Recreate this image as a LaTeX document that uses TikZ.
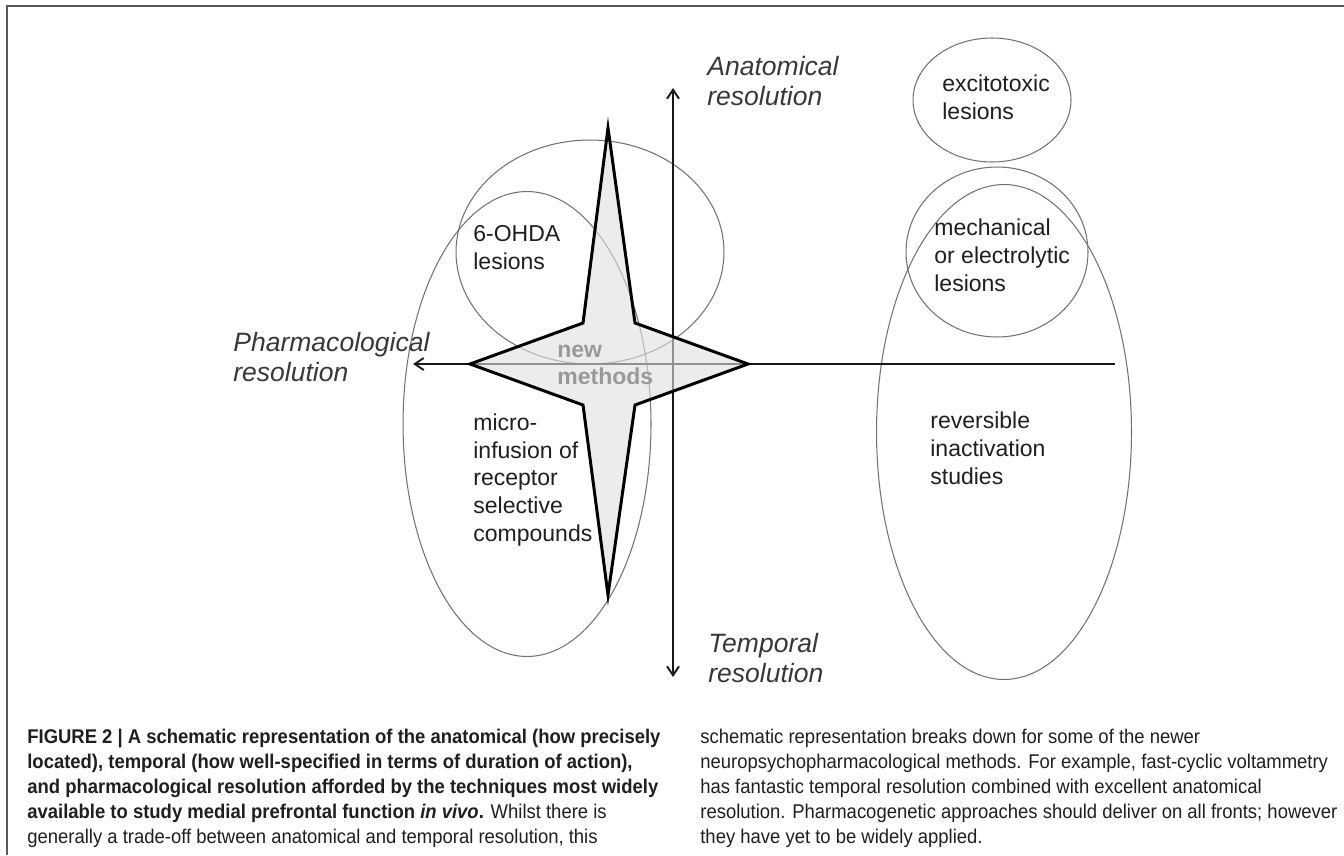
\documentclass[tikz,border=0pt]{standalone}
\usepackage{fontspec}
\setmainfont{Liberation Sans}
\newfontfamily\capfont[FakeStretch=0.93]{Liberation Sans}
\usetikzlibrary{shapes.geometric,arrows.meta}

\begin{document}
\begin{tikzpicture}[
    x=0.02cm, y=-0.02cm,
    >={Straight Barb[length=1.8mm,width=2.4mm]},
    zone/.style={ellipse, draw=black!55, line width=0.6pt, inner sep=0pt},
    zonetext/.style={anchor=west, inner sep=0pt, align=left, text=black!88, font=\fontsize{13.1pt}{15.9pt}\selectfont},
    axistext/.style={anchor=west, inner sep=0pt, align=left, text=black!78, font=\fontsize{15.1pt}{16.6pt}\selectfont\itshape},
    axisline/.style={line width=1.1pt, black!90},
    captext/.style={anchor=west, inner sep=0pt, align=left, text=black!88, font=\capfont\fontsize{11.3pt}{14.2pt}\selectfont},
]
\useasboundingbox (0,0) rectangle (1344,855);
\draw[black!65, line width=1.1pt] (7,855) -- (7,6) -- (1344,6);

\node[zone, minimum width=5.36cm, minimum height=4.48cm] (ohda) at (590,252) {};
\node[zone, minimum width=4.96cm, minimum height=9.3cm] (micro) at (527,424) {};
\node[zone, minimum width=3.16cm, minimum height=2.48cm] (excito) at (992,100) {};
\node[zone, minimum width=3.64cm, minimum height=3.4cm] (mech) at (997,252) {};
\node[zone, minimum width=5.1cm, minimum height=9.9cm] (revers) at (1004,432) {};

\coordinate (anat) at (673,88);
\coordinate (temp) at (673,677);
\coordinate (pharm) at (413,364);
\coordinate (hend) at (1115,364);
\draw[axisline, <->] (anat) -- (temp);
\draw[axisline, ->] (hend) -- (pharm);

\draw[line width=1.7pt, fill=black!12, fill opacity=0.6] (608,128) -- (635,323) -- (748,364) -- (635,405) -- (608,595) -- (583,405) -- (470,364) -- (583,323) -- cycle;

\node[zonetext] (ohdatext) at (473,248) {6-OHDA\\lesions};
\node[zonetext] (microtext) at (473,480) {micro-\\infusion of\\receptor\\selective\\compounds};
\node[zonetext] (excitotext) at (942,97) {excitotoxic\\lesions};
\node[zonetext] (mechtext) at (934,255) {mechanical\\or electrolytic\\lesions};
\node[zonetext] (reverstext) at (930,448) {reversible\\inactivation\\studies};
\node[zonetext, text=black!40, font=\fontsize{13.1pt}{15pt}\selectfont\bfseries] (newtext) at (557,365) {new\\methods};

\node[axistext] (anattext) at (707,81) {Anatomical\\resolution};
\node[axistext] (pharmtext) at (233,357) {Pharmacological\\resolution};
\node[axistext] (temptext) at (708,658) {Temporal\\resolution};

\node[captext] (capleft) at (27,788) {\textbf{FIGURE 2 | A schematic representation of the anatomical (how precisely}\\
\textbf{located), temporal (how well-specified in terms of duration of action),}\\
\textbf{and pharmacological resolution afforded by the techniques most widely}\\
\textbf{available to study medial prefrontal function \textit{in vivo}.} Whilst there is\\
generally a trade-off between anatomical and temporal resolution, this};
\node[captext] (capright) at (700,788) {schematic representation breaks down for some of the newer\\
neuropsychopharmacological methods. For example, fast-cyclic voltammetry\\
has fantastic temporal resolution combined with excellent anatomical\\
resolution. Pharmacogenetic approaches should deliver on all fronts; however\\
they have yet to be widely applied.};
\end{tikzpicture}
\end{document}
